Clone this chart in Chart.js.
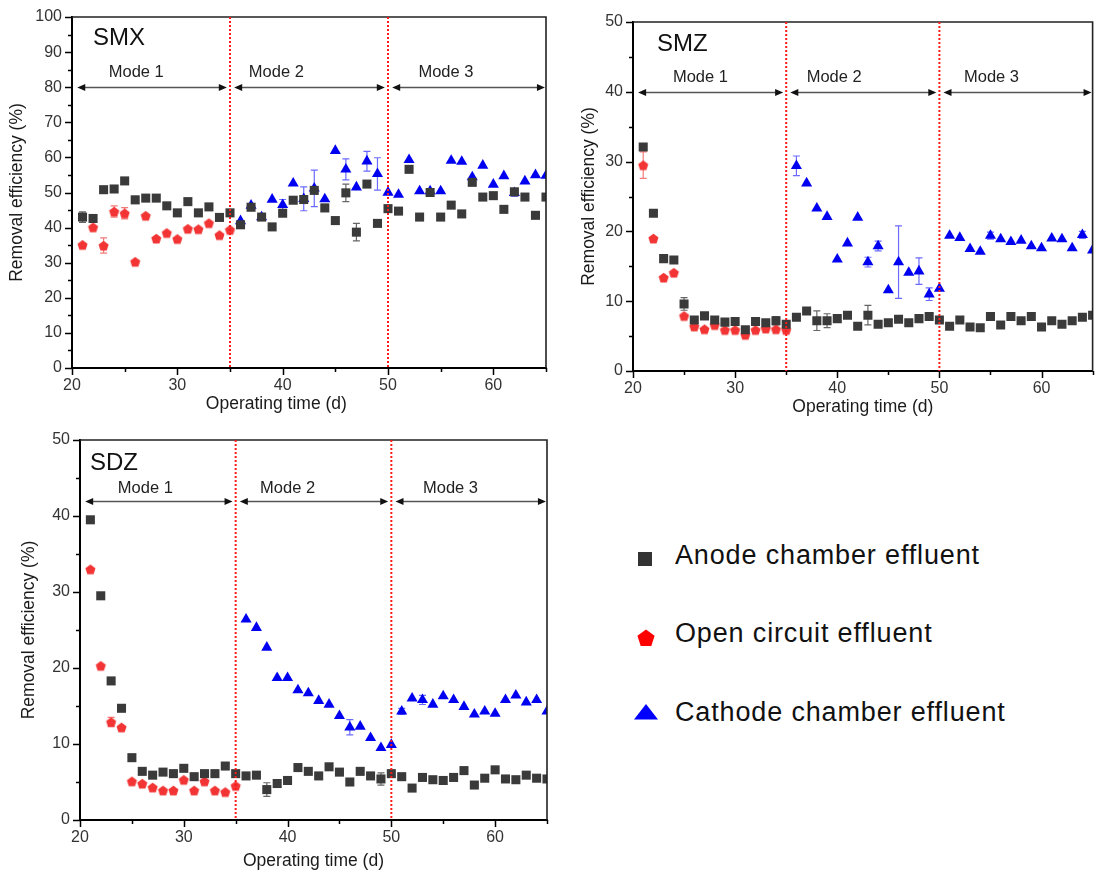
<!DOCTYPE html>
<html><head><meta charset="utf-8">
<script src="https://cdn.jsdelivr.net/npm/chart.js@4.4.1/dist/chart.umd.min.js"></script>
<style>
html,body{margin:0;padding:0;background:#fff;}
body{width:1099px;height:882px;position:relative;overflow:hidden;font-family:"Liberation Sans",Arial,sans-serif;}
.box{position:absolute;}
.lg-text{position:absolute;left:675px;font-size:27px;letter-spacing:0.85px;color:#111;line-height:30px;white-space:nowrap;}
.lg-mark{position:absolute;}
</style></head>
<body>
<div class="box" style="left:0;top:0;"><canvas id="cSMX" width="560" height="420"></canvas></div>
<div class="box" style="left:570px;top:0;"><canvas id="cSMZ" width="529" height="420"></canvas></div>
<div class="box" style="left:0;top:420px;"><canvas id="cSDZ" width="560" height="462"></canvas></div>

<svg class="lg-mark" style="left:638px;top:552px" width="14" height="14"><rect x="0" y="0" width="14" height="14" fill="#333"/></svg>
<div class="lg-text" style="top:540px">Anode chamber effluent</div>
<svg class="lg-mark" style="left:637px;top:629px" width="18" height="18"><polygon points="9,0.5 17.6,6.8 14.3,16.9 3.7,16.9 0.4,6.8" fill="#ff0000"/></svg>
<div class="lg-text" style="top:618px">Open circuit effluent</div>
<svg class="lg-mark" style="left:634px;top:704px" width="24" height="16"><polygon points="12,0 24,15.5 0,15.5" fill="#0000ff"/></svg>
<div class="lg-text" style="top:697px">Cathode chamber effluent</div>

<script>
// ---------- categories ----------
const daysAll = [21,22,23,24,25,26,27,28,29,30,31,32,33,34,35,36,37,38,39,40,41,42,43,44,45,46,47,48,49,50,51,52,53,54,55,56,57,58,59,60,61,62,63,64,65];
const daysOpen = [21,22,23,24,25,26,27,28,29,30,31,32,33,34,35];
const daysCathode = [36,37,38,39,40,41,42,43,44,45,46,47,48,49,50,51,52,53,54,55,56,57,58,59,60,61,62,63,64,65];
const xTickLabels = [20,30,40,50,60];
const yTickLabelsSMX = [0,10,20,30,40,50,60,70,80,90,100];
const yTickLabels50 = [0,10,20,30,40,50];
const seriesNames = ['Anode chamber effluent','Open circuit effluent','Cathode chamber effluent'];
const modeNames = ['Mode 1','Mode 2','Mode 3'];
const modeSwitchDays = [35,50];

// ---------- SMX ----------
const SMX_anode = [43.0,42.6,50.8,51.0,53.3,47.9,48.4,48.4,46.2,44.2,47.4,44.2,45.9,42.9,44.2,40.8,45.8,43.0,40.2,44.1,47.8,48.0,50.6,45.6,42.0,49.9,38.7,52.4,41.2,45.4,44.7,56.6,43.0,50.0,43.0,46.4,43.9,52.9,48.7,49.1,45.2,50.2,48.7,43.5,48.7];
const SMX_anode_err = [1.5,0,0,0,0,1.0,0,0,0,0,0,0,0,0,0,0,0,0,0,0,0,0,0,1.0,0,2.5,2.5,0,0,0,0,0,0,0,0,0,0,0,0,0,0,0,0,0,0];
const SMX_open = [35.1,40.1,34.9,44.6,44.1,30.3,43.4,36.9,38.5,36.8,39.7,39.6,41.3,37.9,39.4];
const SMX_open_err = [0,0,2.2,1.6,1.6,0,0,0,0,0,0,0,0,0,0];
const SMX_cathode = [41.9,46.3,43.0,48.0,46.5,52.6,48.2,51.2,48.1,61.9,56.6,51.5,58.9,55.3,50.0,49.4,59.3,50.4,50.4,50.4,59.1,58.8,54.4,57.7,52.3,54.7,49.9,53.2,55.0,54.8];
const SMX_cathode_err = [0,0,0,0,1.5,0,3.4,5.2,0,0,3.0,0,2.8,4.6,0,0,0,0,0,0,0,0,0,0,0,0,1.0,0,0,0];

// ---------- SMZ ----------
const SMZ_anode = [32.1,22.6,16.1,15.9,9.6,7.3,7.9,7.3,7.0,7.1,5.9,7.1,6.9,7.2,6.7,7.7,8.6,7.2,7.2,7.5,8.0,6.4,8.0,6.7,6.9,7.4,6.9,7.5,7.8,7.3,6.4,7.3,6.3,6.2,7.8,6.6,7.8,7.2,7.8,6.3,7.2,6.7,7.2,7.7,8.0];
const SMZ_anode_err = [0,0,0,0,0.9,0,0,0,0,0,0,0,0,0.6,0,0,0,1.4,1.0,0,0,0,1.4,0,0,0,0,0,0,0,0,0,0,0,0,0,0,0,0,0,0,0,0,0,0];
const SMZ_open = [29.5,19.0,13.4,14.1,7.9,6.4,6.0,6.6,5.9,5.9,5.2,5.9,6.1,6.0,5.9];
const SMZ_open_err = [1.9,0,0,0,0,0,0,0,0,0,0,0,0,0,0];
const SMZ_cathode = [29.4,26.9,23.3,22.1,16.0,18.3,22.0,15.6,17.9,11.6,15.6,14.1,14.3,11.0,11.8,19.4,19.1,17.5,17.1,19.4,18.9,18.5,18.7,17.9,17.6,19.0,18.9,17.6,19.5,17.3];
const SMZ_cathode_err = [1.4,0,0,0,0,0,0,0.7,0.7,0,5.2,0,1.9,0.9,0,0,0,0,0,0.5,0,0,0,0,0,0,0,0,0.5,0];

// ---------- SDZ ----------
const SDZ_anode = [39.5,29.5,18.3,14.7,8.2,6.4,5.9,6.3,6.1,6.8,5.7,6.1,6.1,7.1,6.1,5.8,5.9,4.0,4.8,5.2,6.9,6.4,5.8,7.0,6.3,5.0,6.4,5.8,5.4,6.1,5.7,4.2,5.6,5.3,5.2,5.6,6.5,4.6,5.5,6.6,5.4,5.3,5.9,5.5,5.4];
const SDZ_anode_err = [0,0,0,0,0,0,0,0,0,0,0,0,0,0,0,0,0,0.9,0,0,0,0,0,0,0,0,0,0,0.8,0,0,0,0,0,0,0,0,0,0,0,0,0,0,0,0];
const SDZ_open = [33.0,20.3,12.9,12.2,5.1,4.8,4.3,3.9,3.9,5.3,3.9,5.1,3.9,3.7,4.5];
const SDZ_open_err = [0,0,0.6,0,0,0,0,0,0,0,0,0,0,0,0];
const SDZ_cathode = [26.4,25.3,22.7,18.7,18.7,17.1,16.7,15.7,15.2,13.7,12.2,12.3,10.8,9.5,9.9,14.3,16.0,15.8,15.2,16.3,15.8,14.9,13.9,14.3,14.0,15.8,16.4,15.5,15.8,14.3];
const SDZ_cathode_err = [0,0,0,0,0,0,0,0,0,0,1.0,0,0,0,0,0.4,0,0.6,0,0,0,0,0,0,0,0,0,0,0,0];

// ---------- styling ----------
const FONT = '"Liberation Sans", Arial, sans-serif';
const C_ANODE = '#3a3a3a', C_OPEN = 'rgb(242,52,52)', C_CATH = '#0000f0';

function pentagonCanvas(r, color){
  const s = Math.ceil(2*r+2), c = document.createElement('canvas');
  c.width = s; c.height = s;
  const g = c.getContext('2d'); g.fillStyle = color; g.beginPath();
  for(let k=0;k<5;k++){
    const a = (-90 + 72*k) * Math.PI/180;
    const px = s/2 + r*Math.cos(a), py = s/2 + 0.6 + r*Math.sin(a);
    k ? g.lineTo(px,py) : g.moveTo(px,py);
  }
  g.closePath(); g.fill();
  return c;
}
const pentImg = pentagonCanvas(5.3, C_OPEN);

const errorBars = {
  id:'errorBars',
  beforeDatasetsDraw(chart){
    const ctx = chart.ctx, ys = chart.scales.y, a = chart.chartArea;
    ctx.save();
    ctx.beginPath(); ctx.rect(a.left, a.top, a.right-a.left, a.bottom-a.top); ctx.clip();
    chart.data.datasets.forEach((ds,i)=>{
      if(!ds.errors) return;
      const meta = chart.getDatasetMeta(i);
      ctx.strokeStyle = ds.errColor; ctx.lineWidth = 1.2;
      ctx.beginPath();
      ds.errors.forEach((e,j)=>{
        if(!e) return;
        const px = meta.data[j].x, v = ds.data[j].y;
        const yt = ys.getPixelForValue(v+e), yb = ys.getPixelForValue(v-e);
        ctx.moveTo(px,yt); ctx.lineTo(px,yb);
        ctx.moveTo(px-3.5,yt); ctx.lineTo(px+3.5,yt);
        ctx.moveTo(px-3.5,yb); ctx.lineTo(px+3.5,yb);
      });
      ctx.stroke();
    });
    ctx.restore();
  }
};

const decor = {
  id:'decor',
  afterDatasetsDraw(chart, args, o){
    const ctx = chart.ctx, xs = chart.scales.x, ys = chart.scales.y, a = chart.chartArea;
    ctx.save();
    // minor / major ticks
    ctx.strokeStyle = '#000'; ctx.lineWidth = 1.5; ctx.beginPath();
    xs.ticks.forEach(t=>{ const p = Math.round(xs.getPixelForValue(t.value))+0.5, L = t.value%10===0?7:4;
      ctx.moveTo(p,a.bottom); ctx.lineTo(p,a.bottom+L); });
    ys.ticks.forEach(t=>{ const p = Math.round(ys.getPixelForValue(t.value))+0.5, L = t.value%10===0?7:4;
      ctx.moveTo(a.left,p); ctx.lineTo(a.left-L,p); });
    ctx.stroke();
    // frame (top & right)
    ctx.strokeStyle = '#222'; ctx.lineWidth = 1.6; ctx.beginPath();
    ctx.moveTo(a.left, a.top); ctx.lineTo(a.right, a.top); ctx.lineTo(a.right, a.bottom); ctx.stroke();
    // red dotted separators
    ctx.strokeStyle = '#ff1a1a'; ctx.lineWidth = 2; ctx.setLineDash([2,2]);
    ctx.beginPath();
    modeSwitchDays.forEach(d=>{ const p = xs.getPixelForValue(d); ctx.moveTo(p,a.top); ctx.lineTo(p,a.bottom); });
    ctx.stroke(); ctx.setLineDash([]);
    // mode arrows
    const yl = Math.round(ys.getPixelForValue(o.modeY)) + 0.5;
    o.modeSegs.forEach(seg=>{
      const x0 = xs.getPixelForValue(seg[0]), x1 = xs.getPixelForValue(seg[1]);
      ctx.strokeStyle = '#555'; ctx.lineWidth = 1.3;
      ctx.beginPath(); ctx.moveTo(x0+4,yl); ctx.lineTo(x1-4,yl); ctx.stroke();
      ctx.fillStyle = '#111';
      ctx.beginPath(); ctx.moveTo(x0,yl); ctx.lineTo(x0+8,yl-3.5); ctx.lineTo(x0+8,yl+3.5); ctx.closePath(); ctx.fill();
      ctx.beginPath(); ctx.moveTo(x1,yl); ctx.lineTo(x1-8,yl-3.5); ctx.lineTo(x1-8,yl+3.5); ctx.closePath(); ctx.fill();
    });
    ctx.fillStyle = '#222'; ctx.font = '16.5px ' + FONT; ctx.textAlign = 'center'; ctx.textBaseline = 'middle';
    modeNames.forEach((m,i)=>{ ctx.fillText(m, xs.getPixelForValue(o.modeLabelDays[i]), yl - o.modeLabelDy); });
    // panel label
    ctx.fillStyle = '#111'; ctx.font = '24px ' + FONT; ctx.textAlign = 'left';
    ctx.fillText(o.panel, a.left + o.panelDx, a.top + o.panelDy);
    // custom x title position (if requested)
    if(o.xTitleDay){
      ctx.fillStyle = '#1a1a1a'; ctx.font = '17.5px ' + FONT; ctx.textAlign = 'center';
      ctx.fillText('Operating time (d)', xs.getPixelForValue(o.xTitleDay), o.xTitleY);
    }
    ctx.restore();
  }
};

function pts(xs, ys){ return xs.map((x,i)=>({x:x, y:ys[i]})); }

function makeChart(id, cfg){
  const tickFont = {family:FONT, size:16};
  return new Chart(document.getElementById(id), {
    type:'scatter',
    data:{ datasets:[
      {label:seriesNames[0], data:pts(daysAll,cfg.anode), errors:cfg.anodeErr, errColor:'#666',
       pointStyle:'rect', pointRadius:6.4, pointBackgroundColor:C_ANODE, pointBorderWidth:0},
      {label:seriesNames[1], data:pts(daysOpen,cfg.open), errors:cfg.openErr, errColor:'#f47a7a',
       pointStyle:pentImg, pointRadius:5, pointBackgroundColor:C_OPEN, pointBorderWidth:0},
      {label:seriesNames[2], data:pts(daysCathode,cfg.cathode), errors:cfg.cathodeErr, errColor:'#6a6aff',
       pointStyle:'triangle', pointRadius:6.4, pointBackgroundColor:C_CATH, pointBorderWidth:0}
    ]},
    options:{
      responsive:false, animation:false, devicePixelRatio:1,
      layout:{padding:{top:cfg.padTop, right:cfg.padRight, left:0, bottom:0}},
      plugins:{ legend:{display:false}, tooltip:{enabled:false}, decor:cfg.decor },
      scales:{
        x:{ type:'linear', min:20, max:65,
            afterFit(s){ s.height = cfg.xH; s.paddingLeft = 0; s.paddingRight = 0; },
            ticks:{ stepSize:5, autoSkip:false, maxRotation:0, padding:8, font:tickFont, color:'#333',
                    callback:v=> xTickLabels.includes(v) ? String(v) : '' },
            grid:{display:false, drawTicks:false},
            border:{display:true, color:'#000', width:2},
            title:{ display:!cfg.decor.xTitleDay, text:'Operating time (d)', color:'#1a1a1a',
                    font:{family:FONT, size:17.5}, padding:{top:0, bottom:cfg.xTitlePad} } },
        y:{ min:0, max:cfg.yMax,
            afterFit(s){ s.width = cfg.yW; s.paddingTop = 0; s.paddingBottom = 0; },
            ticks:{ stepSize:5, autoSkip:false, padding:10, font:tickFont, color:'#333',
                    callback:v=> cfg.yLabels.includes(v) ? String(v) : '' },
            grid:{display:false, drawTicks:false},
            border:{display:true, color:'#000', width:2},
            title:{ display:true, text:'Removal efficiency (%)', color:'#1a1a1a',
                    font:{family:FONT, size:17.5}, padding:{top:cfg.yTitlePad, bottom:0} } }
      }
    },
    plugins:[errorBars, decor]
  });
}

makeChart('cSMX', {
  anode:SMX_anode, anodeErr:SMX_anode_err, open:SMX_open, openErr:SMX_open_err,
  cathode:SMX_cathode, cathodeErr:SMX_cathode_err,
  yMax:100, yLabels:yTickLabelsSMX, padTop:17, padRight:14, yW:72, xH:52, xTitlePad:6, yTitlePad:7,
  decor:{panel:'SMX', panelDx:21, panelDy:21, modeY:80, modeLabelDy:15,
         modeSegs:[[20.5,34.7],[35.4,49.7],[50.4,64.9]], modeLabelDays:[26.1,39.4,55.5],
         xTitleDay:39.4, xTitleY:404}
});
makeChart('cSMZ', {
  anode:SMZ_anode, anodeErr:SMZ_anode_err, open:SMZ_open, openErr:SMZ_open_err,
  cathode:SMZ_cathode, cathodeErr:SMZ_cathode_err,
  yMax:50, yLabels:yTickLabels50, padTop:22, padRight:1, yW:63, xH:49, xTitlePad:2, yTitlePad:9,
  decor:{panel:'SMZ', panelDx:24, panelDy:22, modeY:40, modeLabelDy:15,
         modeSegs:[[20.5,34.7],[35.4,49.7],[50.4,64.9]], modeLabelDays:[26.6,39.7,55.1]}
});
makeChart('cSDZ', {
  anode:SDZ_anode, anodeErr:SDZ_anode_err, open:SDZ_open, openErr:SDZ_open_err,
  cathode:SDZ_cathode, cathodeErr:SDZ_cathode_err,
  yMax:50, yLabels:yTickLabels50, padTop:20, padRight:13, yW:80, xH:62, xTitlePad:10, yTitlePad:19,
  decor:{panel:'SDZ', panelDx:10, panelDy:23, modeY:42, modeLabelDy:13,
         modeSegs:[[20.5,34.7],[35.4,49.7],[50.4,64.9]], modeLabelDays:[26.3,40.0,55.7]}
});
</script>
</body></html>
